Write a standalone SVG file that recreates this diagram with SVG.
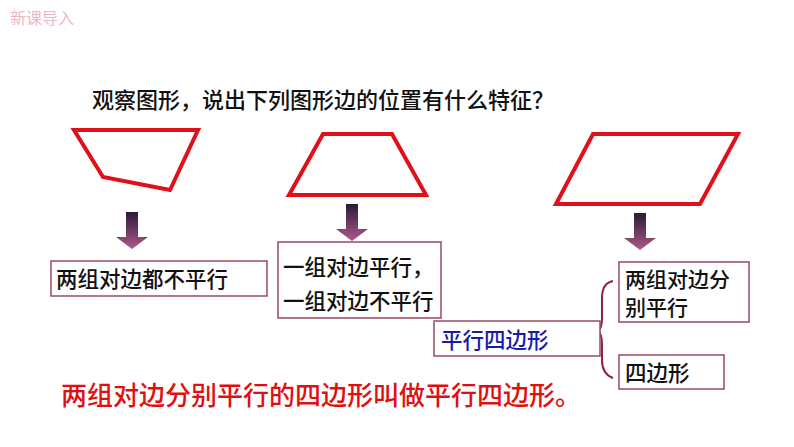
<svg xmlns="http://www.w3.org/2000/svg" width="794" height="447" viewBox="0 0 794 447">
<style>
.shape{fill:none;stroke:#e0101a;stroke-width:4;stroke-linejoin:miter}
.box{fill:#fff;stroke:#9a4a66;stroke-width:1.5}
.t{font-family:"Noto Sans CJK SC","Liberation Sans",sans-serif;font-size:21.5px;font-weight:500;fill:#111}
</style>
<defs>
<linearGradient id="ag" x1="0" y1="0" x2="0" y2="1">
<stop offset="0" stop-color="#2a1a35"/>
<stop offset="1" stop-color="#b0588a"/>
</linearGradient>
<path id="arr" d="M-6,0 H6 V25 H16 L0,37 L-16,25 H-6 Z" fill="url(#ag)"/>
</defs>
<rect width="794" height="447" fill="#fff"/>
<text x="10" y="24" style="font-family:'Noto Sans CJK SC',sans-serif;font-size:16px;fill:#e9a6b5;opacity:0.8">新课导入</text>
<text class="t" x="92" y="108" style="font-size:22px">观察图形，说出下列图形边的位置有什么特征？</text>
<g id="shape1"><polygon class="shape" points="74,130 198,130 170,190 103,177"/></g>
<g id="shape2"><polygon class="shape" points="323,134 392,134 426,195 289,195"/></g>
<g id="shape3"><polygon class="shape" points="593,134 738,134 700,204 556,204"/></g>
<g id="connectors">
<use href="#arr" x="132" y="212"/>
<use href="#arr" x="352" y="204"/>
<use href="#arr" x="640" y="213"/>
<path d="M613,281 Q602,283 602,298 V318 Q602,328 598,331 Q602,334 602,344 V360 Q602,374 613,378" fill="none" stroke="#8b2545" stroke-width="2"/>
</g>
<g id="box1"><rect class="box" x="51" y="261" width="216" height="35"/><text class="t" x="56" y="287">两组对边都不平行</text></g>
<g id="box2"><rect class="box" x="278" y="242" width="163" height="76"/><text class="t" x="283" y="275">一组对边平行，</text><text class="t" x="283" y="309">一组对边不平行</text></g>
<g id="box3"><rect class="box" x="619" y="262" width="130" height="60"/><text class="t" x="625" y="287" style="font-size:21px">两组对边分</text><text class="t" x="625" y="315" style="font-size:21px">别平行</text></g>
<g id="box4"><rect class="box" x="434" y="321" width="166" height="35"/><text class="t" x="441" y="348" style="fill:#1a1aa8">平行四边形</text></g>
<g id="box5"><rect class="box" x="619" y="355" width="105" height="34"/><text class="t" x="625" y="381">四边形</text></g>
<text x="61" y="405" style="font-family:'Noto Sans CJK SC','Liberation Sans',sans-serif;font-size:26px;font-weight:500;fill:#e01010">两组对边分别平行的四边形叫做平行四边形。</text>
</svg>
